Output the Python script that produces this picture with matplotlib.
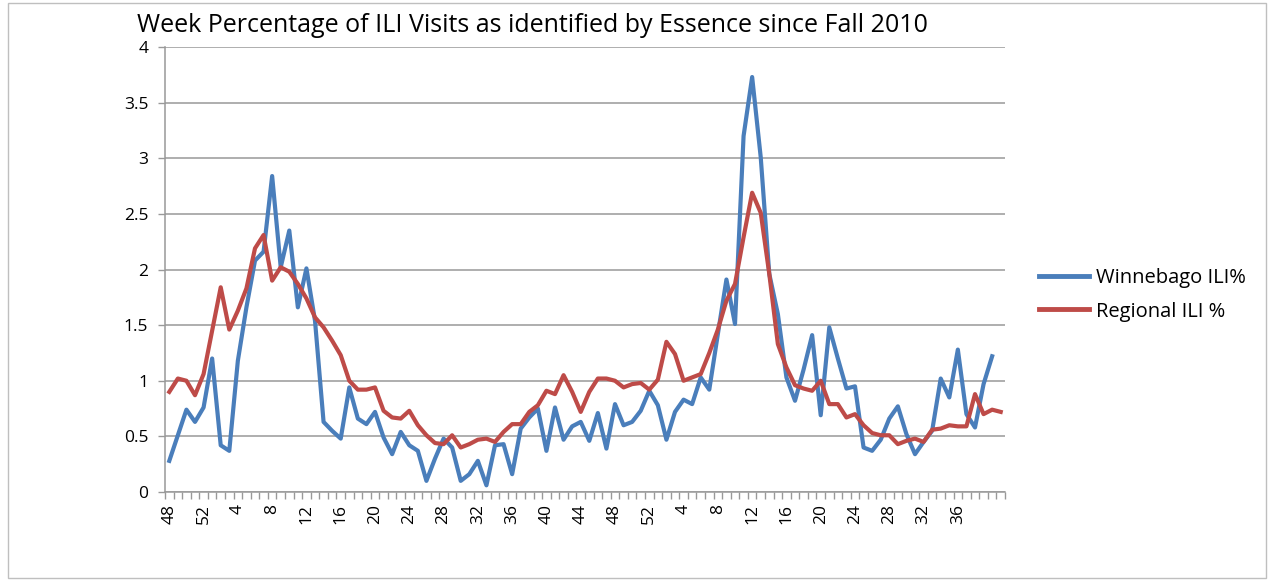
import numpy as np
import matplotlib
matplotlib.use("Agg")
import matplotlib.pyplot as plt
from matplotlib.patches import Rectangle

# Week labels: wk48 2010 .. wk41 2012
weeks = list(range(48, 53)) + list(range(1, 53)) + list(range(1, 42))

winnebago = [0.28, 0.51, 0.74, 0.63, 0.76, 1.20, 0.42, 0.37, 1.18, 1.66,
             2.08, 2.16, 2.84, 2.02, 2.35, 1.66, 2.01, 1.54, 0.63, 0.55,
             0.48, 0.94, 0.66, 0.61, 0.72, 0.49, 0.34, 0.54, 0.42, 0.37,
             0.10, 0.30, 0.48, 0.40, 0.10, 0.16, 0.28, 0.06, 0.42, 0.43,
             0.16, 0.57, 0.67, 0.75, 0.37, 0.76, 0.47, 0.59, 0.63, 0.46,
             0.71, 0.39, 0.79, 0.60, 0.63, 0.73, 0.91, 0.78, 0.47, 0.72,
             0.83, 0.79, 1.03, 0.92, 1.42, 1.91, 1.51, 3.20, 3.73, 3.01,
             1.96, 1.60, 1.03, 0.82, 1.10, 1.41, 0.69, 1.48, 1.20, 0.93,
             0.95, 0.40, 0.37, 0.47, 0.66, 0.77, 0.52, 0.34, 0.45, 0.55,
             1.02, 0.85, 1.28, 0.70, 0.58, 0.97, 1.22]

regional = [0.90, 1.02, 1.00, 0.87, 1.06, 1.45, 1.84, 1.46, 1.63, 1.83,
            2.19, 2.31, 1.90, 2.02, 1.98, 1.87, 1.74, 1.57, 1.48, 1.36,
            1.23, 1.00, 0.92, 0.92, 0.94, 0.73, 0.67, 0.66, 0.73, 0.60,
            0.51, 0.44, 0.43, 0.51, 0.40, 0.43, 0.47, 0.48, 0.45, 0.54,
            0.61, 0.61, 0.72, 0.78, 0.91, 0.88, 1.05, 0.90, 0.72, 0.90,
            1.02, 1.02, 1.00, 0.94, 0.97, 0.98, 0.92, 1.01, 1.35, 1.24,
            1.00, 1.03, 1.06, 1.25, 1.46, 1.72, 1.87, 2.29, 2.69, 2.51,
            1.96, 1.33, 1.12, 0.96, 0.93, 0.91, 1.00, 0.79, 0.79, 0.67,
            0.70, 0.60, 0.53, 0.51, 0.51, 0.43, 0.46, 0.48, 0.45, 0.56,
            0.57, 0.60, 0.59, 0.59, 0.88, 0.70, 0.74, 0.72]

title = "Week Percentage of ILI Visits as identified by Essence since Fall 2010"
series_names = ["Winnebago ILI%", "Regional ILI %"]
colors = ["#4A7EBB", "#BE4B48"]

plt.rcParams['font.family'] = ['Open Sans', 'DejaVu Sans']

fig = plt.figure(figsize=(12.74, 5.81), dpi=100)
fig.patches.append(Rectangle((8/1274, 3/581), 1258/1274, 575/581,
                             transform=fig.transFigure, fill=False,
                             edgecolor="#BFBFBF", linewidth=1.0))

ax = fig.add_axes([165/1274, 1 - 492/581, 840/1274, 445/581])
n = len(weeks)
ax.plot(np.arange(len(winnebago)), winnebago, color=colors[0], lw=3.0,
        label=series_names[0], solid_joinstyle='round')
ax.plot(np.arange(len(regional)), regional, color=colors[1], lw=3.0,
        label=series_names[1], solid_joinstyle='round')

ax.set_xlim(-0.5, n - 0.5)
ax.set_ylim(0, 4)
ax.set_yticks(np.arange(0, 4.01, 0.5))
ax.set_yticklabels(["0", "0.5", "1", "1.5", "2", "2.5", "3", "3.5", "4"], fontsize=12.5)
ax.yaxis.grid(True, color="#999999", lw=1.1)
ax.set_axisbelow(True)

ax.set_xticks(np.arange(-0.5, n, 1))
ax.set_xticklabels([])
ax.tick_params(axis='x', which='major', length=5, color="#999999", width=1)
lab_pos = list(range(0, 93, 4))
ax.set_xticks(lab_pos, minor=True)
ax.set_xticklabels([str(weeks[i]) for i in lab_pos], minor=True, rotation=90, fontsize=12.5)
ax.tick_params(axis='x', which='minor', length=0, pad=9)
ax.tick_params(axis='y', length=5, color="#999999", width=1, pad=7)

for s in ['top', 'right']:
    ax.spines[s].set_visible(False)
for s in ['left', 'bottom']:
    ax.spines[s].set_color("#999999")
    ax.spines[s].set_linewidth(1.1)

fig.text(532/1274, 1 - 26/581, title, ha='center', va='center', fontsize=18)

leg = fig.legend(loc='center left', bbox_to_anchor=(1021/1274, 1 - 295/581),
                 frameon=False, fontsize=14.5, handlelength=2.5, labelspacing=0.65,
                 handletextpad=0.3)
for l in leg.get_lines():
    l.set_linewidth(3.5)

fig.savefig("out.png", dpi=100)
